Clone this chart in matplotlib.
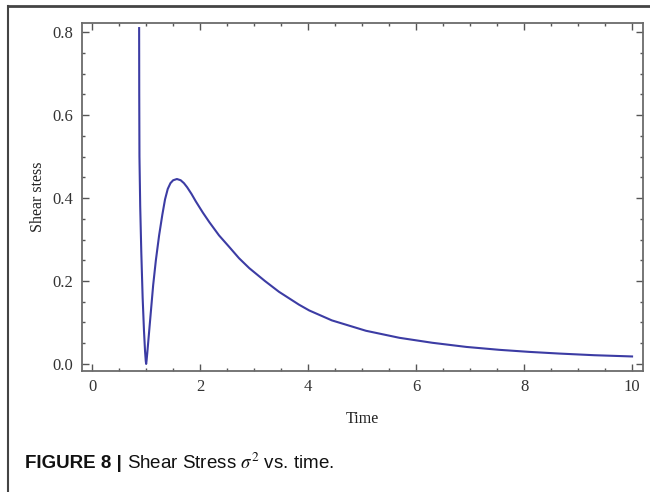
import matplotlib
matplotlib.use("Agg")
import matplotlib.pyplot as plt
from matplotlib.lines import Line2D
from matplotlib.ticker import MultipleLocator

# values
time = [0.870, 0.872, 0.876, 0.89, 0.91, 0.935, 0.96, 0.98, 0.993, 1.00, 1.007,
        1.02, 1.05, 1.09, 1.13, 1.18, 1.24, 1.30, 1.35, 1.40, 1.45, 1.50, 1.57,
        1.64, 1.70, 1.76, 1.84, 1.92, 2.05, 2.17, 2.35, 2.54, 2.72, 2.91, 3.20, 3.46,
        3.83, 4.02, 4.44, 5.07, 5.69, 6.30, 6.93, 7.54, 8.10, 8.65, 9.30, 10.0]
stress = [0.81, 0.65, 0.50, 0.38, 0.27, 0.16, 0.08, 0.03, 0.007, 0.0, 0.007,
          0.025, 0.07, 0.13, 0.19, 0.25, 0.31, 0.36, 0.397, 0.422, 0.436, 0.443, 0.446,
          0.443, 0.436, 0.426, 0.410, 0.392, 0.365, 0.342, 0.31, 0.282, 0.255, 0.231, 0.200, 0.174,
          0.143, 0.129, 0.105, 0.080, 0.063, 0.051, 0.041, 0.034, 0.029, 0.025, 0.021, 0.018]

xticks = [0, 2, 4, 6, 8, 10]
yticks = [0.0, 0.2, 0.4, 0.6, 0.8]

plt.rcParams["mathtext.fontset"] = "stix"

fig = plt.figure(figsize=(6.5, 4.92), dpi=100)
ax = fig.add_axes([0.126, 0.246, 0.863, 0.707])

ax.plot(time, stress, color="#3c3ca4", lw=1.5)

ax.set_xlim(-0.19, 10.2)
ax.set_ylim(-0.017, 0.822)
ax.set_xticks(xticks)
ax.set_yticks(yticks)
ax.set_xticklabels([str(v) for v in xticks])
ax.set_yticklabels(["%.1f" % v for v in yticks])
ax.xaxis.set_minor_locator(MultipleLocator(0.5))
ax.yaxis.set_minor_locator(MultipleLocator(0.05))

serif = "Liberation Serif"
for lab in ax.get_xticklabels() + ax.get_yticklabels():
    lab.set_fontfamily(serif)
    lab.set_fontsize(12)
    lab.set_color("#333333")

ax.tick_params(which="both", direction="in", top=True, right=True,
               color="#555555", width=1.0)
ax.tick_params(which="major", length=5, pad=6)
ax.tick_params(which="minor", length=2.5)
for s in ax.spines.values():
    s.set_color("#6b6b6b")
    s.set_linewidth(1.3)

ax.set_xlabel("Time", fontfamily=serif, fontsize=11.5, labelpad=11, color="#222222")
ax.set_ylabel("Shear stess", fontfamily=serif, fontsize=11.5, labelpad=5, color="#222222")

# outer frame of the figure panel (open at right/bottom, as cropped)
fig.add_artist(Line2D([8 / 650, 8 / 650], [0, 1 - 6 / 492], color="#444444", lw=1.5))
fig.add_artist(Line2D([8 / 650, 1], [1 - 6 / 492, 1 - 6 / 492], color="#444444", lw=2.0))

fig.text(25 / 650, 1 - 463 / 492, "FIGURE 8 |", fontfamily="Liberation Sans",
         fontweight="bold", fontsize=13.5, va="center", ha="left", color="#111111")
fig.text(127 / 650, 1 - 463 / 492, r"Shear Stress $\sigma^2$ vs. time.",
         fontfamily="Liberation Sans", fontsize=13.5, va="center", ha="left",
         color="#111111")

fig.savefig("out.png", dpi=100)
